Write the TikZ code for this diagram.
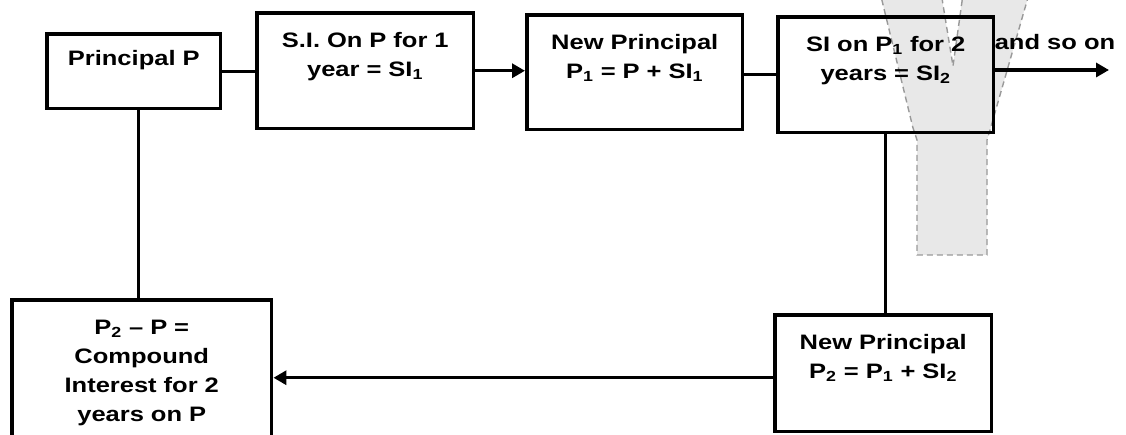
\documentclass[tikz,border=0pt]{standalone}
\usepackage{fontspec}
\setmainfont{Liberation Sans}[FakeStretch=1.22]
\usetikzlibrary{arrows.meta}

\begin{document}
\begin{tikzpicture}[x=0.02cm, y=-0.02cm,
    font=\fontsize{11.9pt}{16.5pt}\selectfont\bfseries,
    box/.style={draw, line width=2pt, inner sep=0pt, anchor=north west,
                align=center, text height=0.7cm},
    link/.style={line width=1.9pt},
    arrow/.style={link, -{Triangle[length=0.26cm, width=0.28cm]}}]
  \useasboundingbox (0, 0) rectangle (1126, 435);
  \clip (0, 0) rectangle (1126, 435);

  % Grey fork behind the right-hand boxes
  \filldraw[fill=black!9, draw=black!40, line width=0.8pt,
            dash pattern=on 0.12cm off 0.08cm]
    (877, -20) -- (913, 128) -- (917, 140) -- (917, 255) -- (987, 255)
    -- (987, 140) -- (990, 130) -- (1033, -20) -- (965, -20) -- (953, 66)
    -- (939, -20) -- cycle;

  % Top row
  \node[box, text width=3.48cm, text height=0.64cm, text depth=0.86cm]
    (principal) at (45, 32) {Principal P};
  \node[box, text width=4.34cm, text depth=1.62cm]
    (sipone) at (255, 11) {S.I. On P for 1\\ year = SI\textsubscript{1}};
  \node[box, text width=4.32cm, text depth=1.60cm]
    (newpone) at (525, 13) {New Principal\\ P\textsubscript{1} = P + SI\textsubscript{1}};
  \node[box, text width=4.32cm, text depth=1.62cm]
    (sitwo) at (776, 15) {SI on P\textsubscript{1} for 2\\ years = SI\textsubscript{2}};
  \node[anchor=base] (more) at (1055, 50) {and so on};
  \coordinate (onward) at (1109, 70);

  % Bottom row
  \node[box, text width=4.34cm, text depth=1.64cm]
    (newptwo) at (773, 313) {New Principal\\ P\textsubscript{2} = P\textsubscript{1} + SI\textsubscript{2}};
  \node[box, text width=5.2cm, text depth=2.44cm]
    (compound) at (10, 298) {P\textsubscript{2} – P =\\ Compound\\ Interest for 2\\ years on P};

  % Connectors
  \draw[link] (principal.east) -- (principal.east -| sipone.west);
  \draw[arrow] (sipone.east) -- (sipone.east -| newpone.west);
  \draw[link] (sitwo.west) -- (sitwo.west -| newpone.east);
  \draw[arrow] (sitwo.east |- onward) -- (onward);
  \draw[link] (sitwo.south) -- (sitwo.south |- newptwo.north);
  \draw[arrow] ([yshift=-0.09cm]newptwo.west) -- ([yshift=-0.09cm]newptwo.west -| compound.east);
  \draw[link] ([xshift=0.1cm]principal.south) -- ([xshift=0.1cm]principal.south |- compound.north);
\end{tikzpicture}
\end{document}
